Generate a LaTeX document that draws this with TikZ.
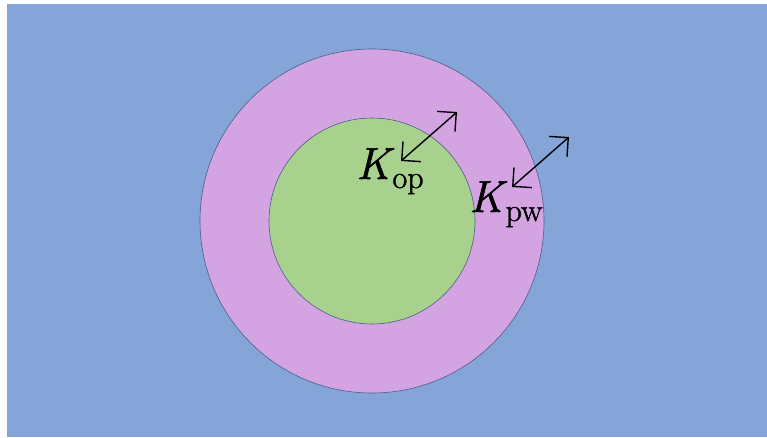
\documentclass[tikz,border=0pt]{standalone}
\usepackage{fontspec}
\usetikzlibrary{arrows.meta}
\newfontfamily\lblfont{Latin Modern Roman}[FakeBold=1.3]
\definecolor{bgblue}{RGB}{133,164,216}
\definecolor{ringpink}{RGB}{211,164,225}
\definecolor{coregreen}{RGB}{169,209,142}
\definecolor{edgeline}{RGB}{75,95,135}
\newcommand{\kvar}[1]{{\itshape K}\kern2.5pt\raisebox{-9pt}{\fontsize{32}{35}\selectfont #1}}
\tikzset{
  disc/.style={circle, draw=edgeline, line width=0.6pt, inner sep=0pt},
  dblarrow/.style={line width=1.4pt, {Straight Barb[length=13.5pt,width=27pt]}-{Straight Barb[length=13.5pt,width=27pt]}},
  lbl/.style={anchor=base west, inner sep=0pt, font=\lblfont\fontsize{45}{50}\selectfont}
}
\begin{document}
\begin{tikzpicture}[x=1pt, y=-1pt]
  \useasboundingbox (0,0) rectangle (767,437);
  % background panel
  \fill[bgblue] (7,4) rectangle (767,437);
  % outer shell and inner core
  \node[disc, fill=ringpink, minimum size=344pt] (outer) at (372,221) {};
  \node[disc, fill=coregreen, minimum size=206pt] (inner) at (372,221) {};
  % double-headed arrows
  \coordinate (opA) at (401,161);
  \coordinate (opB) at (457,112);
  \coordinate (pwA) at (512,187);
  \coordinate (pwB) at (569,137);
  \draw[dblarrow] (opA) -- (opB);
  \draw[dblarrow] (pwA) -- (pwB);
  % labels
  \node[lbl] (kop) at (356,179) {\kvar{op}};
  \node[lbl] (kpw) at (469,212) {\kvar{pw}};
\end{tikzpicture}
\end{document}
